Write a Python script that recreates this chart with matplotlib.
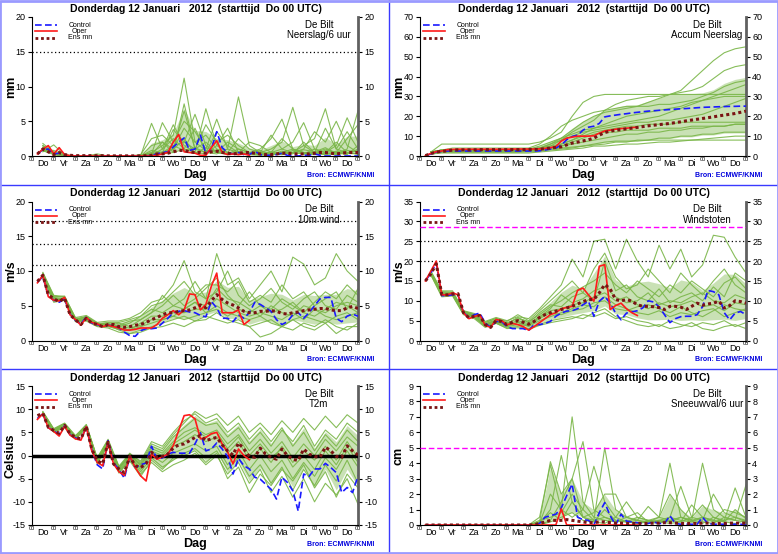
import numpy as np
import matplotlib.pyplot as plt
from matplotlib.lines import Line2D

plt.rcParams['font.family'] = ['Liberation Sans', 'DejaVu Sans']
plt.rcParams['axes.unicode_minus'] = False

# tijdas in uren na de start (Do 00 UTC)
uren6 = np.arange(6, 361, 6)
uren_oper = uren6[:40]
uren12 = np.arange(12, 361, 12)
dagen = ['Do', 'Vr', 'Za', 'Zo', 'Ma', 'Di', 'Wo', 'Do', 'Vr', 'Za', 'Zo', 'Ma', 'Di', 'Wo', 'Do']
titel = 'Donderdag 12 Januari   2012  (starttijd  Do 00 UTC)'

# ---------------- neerslag per 6 uur (mm) ----------------
neerslag_gem = [0.3, 1.0, 0.6, 0.2, 0.5, 0.2, 0.1, 0.05, 0.05, 0.05,
                0.05, 0.05, 0.05, 0.02, 0.02, 0.02, 0.02, 0.02, 0.02, 0.02,
                0.05, 0.1, 0.3, 0.3, 0.4, 0.6, 0.8, 0.8, 0.6, 0.5,
                0.5, 0.4, 0.6, 0.7, 0.5, 0.4, 0.3, 0.4, 0.5, 0.5,
                0.4, 0.3, 0.2, 0.2, 0.3, 0.4, 0.4, 0.3, 0.3, 0.3,
                0.3, 0.4, 0.5, 0.5, 0.4, 0.3, 0.4, 0.5, 0.5, 0.5]
neerslag_ctrl = [0.3, 0.9, 1.0, 0.3, 0.4, 0.1, 0.0, 0.0, 0.0, 0.0,
                 0, 0, 0, 0, 0, 0, 0, 0, 0, 0,
                 0.0, 0.1, 0.3, 0.5, 0.6, 1.3, 2.0, 2.6, 0.8, 1.0,
                 3.0, 0.3, 1.0, 3.5, 1.2, 0.5, 0.3, 0.5, 0.2, 0.2,
                 0.7, 0.2, 0.1, 0.1, 0.2, 0.4, 0.1, 0.1, 0.0, 0.1,
                 0.1, 0.3, 0.1, 0.0, 0.0, 0.0, 0.0, 0.0, 0.0, 0.0]
neerslag_oper = [0.3, 1.0, 1.5, 0.3, 1.2, 0.2, 0.05, 0, 0, 0,
                 0, 0, 0, 0, 0, 0, 0, 0, 0, 0,
                 0, 0, 0.1, 0.3, 0.5, 2.0, 3.1, 0.6, 0.5, 0.4,
                 0.1, 0.1, 1.2, 2.2, 0.5, 0.2, 0.3, 0.2, 0.3, 0.1]
neerslag_leden = [
    [1.5, 0.3, 0, 0, 0, 0, 0, 0, 0, 0.1, 0.5, 1.5, 3.0, 11.2, 2.0, 0.8, 0.5, 0.3, 0.5, 0.2, 0.1, 0.3, 0.5, 1.0, 0.5, 0.3, 0.8, 0.5, 0.3, 1.0],
    [1.0, 0.8, 0.1, 0, 0, 0, 0, 0, 0, 0, 4.7, 1.0, 2.5, 1.0, 0.5, 6.8, 1.5, 0.5, 0.3, 0.2, 0.5, 1.0, 2.0, 7.0, 1.5, 0.5, 0.3, 0.2, 0.5, 0.3],
    [1.8, 0.5, 0.2, 0, 0, 0, 0, 0, 0, 0, 0.3, 4.8, 2.0, 5.0, 3.5, 1.0, 5.3, 1.0, 8.5, 1.5, 0.5, 0.2, 0.3, 0.5, 1.5, 2.5, 6.8, 1.0, 0.5, 0.8],
    [0.8, 0.2, 0, 0, 0, 0.3, 0, 0, 0, 0, 0.2, 0.5, 3.8, 2.0, 6.0, 1.5, 0.5, 2.0, 1.0, 0.5, 1.0, 2.5, 5.3, 1.0, 0.3, 0.2, 0.5, 1.5, 5.5, 2.0],
    [1.2, 0.4, 0, 0, 0, 0, 0, 0, 0, 0, 1.5, 2.0, 1.0, 6.5, 1.0, 0.5, 3.5, 1.5, 0.5, 0.3, 0.2, 0.5, 1.0, 2.0, 4.8, 1.0, 0.5, 0.3, 1.0, 6.5],
    [0.6, 1.6, 0.1, 0, 0, 0, 0, 0, 0, 0, 0.3, 0.5, 1.0, 4.0, 2.0, 3.0, 1.0, 0.5, 2.5, 1.0, 0.5, 0.3, 0.2, 0.5, 1.0, 3.5, 2.0, 5.0, 1.5, 0.5],
    [1.5, 0.3, 0, 0, 0, 0, 0, 0, 0, 0.2, 2.5, 3.0, 1.5, 2.0, 1.0, 4.5, 2.0, 3.0, 1.5, 0.5, 0.3, 0.5, 2.5, 1.0, 0.5, 0.5, 1.0, 0.5, 2.5, 4.5],
    [1.0, 0.5, 0, 0, 0, 0, 0, 0, 0, 0, 0.1, 1.0, 4.5, 1.5, 0.5, 0.3, 1.5, 4.0, 0.5, 2.0, 1.5, 0.5, 0.3, 0.5, 0.3, 1.0, 0.5, 2.0, 0.5, 0.3],
    [1.3, 0.2, 0, 0, 0, 0, 0, 0, 0, 0, 0.5, 0.3, 0.5, 7.5, 1.0, 2.0, 0.5, 0.3, 1.0, 0.5, 0.2, 0.1, 0.5, 0.3, 2.0, 0.5, 0.3, 0.5, 0.2, 1.5],
    [0.9, 0.6, 0, 0, 0, 0, 0, 0, 0, 0, 0.2, 2.0, 0.5, 1.0, 4.0, 0.5, 0.3, 1.0, 0.5, 0.2, 0.5, 3.0, 1.0, 0.5, 0.3, 0.5, 4.0, 1.0, 3.5, 1.0],
    [1.1, 0.3, 0, 0, 0, 0, 0, 0, 0, 0, 0.8, 0.5, 1.5, 0.8, 1.2, 0.5, 0.8, 0.3, 0.2, 0.4, 0.3, 0.6, 0.2, 0.8, 0.5, 0.3, 0.2, 0.7, 0.4, 0.3],
    [0.7, 0.4, 0, 0, 0, 0, 0, 0, 0, 0, 0.1, 0.6, 0.9, 2.5, 0.4, 1.2, 0.6, 0.2, 0.6, 0.3, 0.8, 0.2, 0.7, 0.4, 0.9, 0.6, 1.2, 0.3, 0.8, 0.6],
]

# ---------------- geaccumuleerde neerslag (mm) ----------------
accum_gem = [0.2, 1.2, 2.0, 2.3, 2.6, 3.0, 3.1, 3.1, 3.1, 3.1,
             3.2, 3.2, 3.2, 3.2, 3.2, 3.2, 3.2, 3.2, 3.2, 3.3,
             3.3, 3.4, 3.7, 4.0, 4.3, 4.6, 5.6, 6.5, 7.0, 7.6,
             8.2, 9.0, 10.5, 11.8, 12.5, 13.0, 13.3, 13.7, 14.0, 14.4,
             14.8, 15.2, 15.5, 15.8, 16.1, 16.4, 16.8, 17.2, 17.7, 18.1,
             18.5, 18.9, 19.3, 19.7, 20.2, 20.6, 21.0, 21.4, 22.0, 22.6]
accum_ctrl = [0.2, 1.0, 2.0, 2.3, 2.5, 2.5, 2.5, 2.5, 2.5, 2.5,
              2.5, 2.5, 2.5, 2.5, 2.5, 2.5, 2.5, 2.5, 2.5, 2.5,
              2.5, 2.6, 3.0, 3.5, 4.0, 5.5, 8.2, 9.8, 10.5, 13.0,
              14.5, 15.0, 16.4, 19.7, 20.2, 20.6, 21.0, 21.3, 21.7, 22.0,
              22.3, 22.6, 22.8, 23.0, 23.2, 23.4, 23.6, 23.8, 23.9, 24.1,
              24.3, 24.5, 24.6, 24.7, 24.8, 24.9, 25.0, 25.0, 25.1, 25.1]
accum_oper = [0.2, 1.3, 2.2, 2.5, 3.2, 3.3, 3.4, 3.4, 3.4, 3.4,
              3.4, 3.4, 3.4, 3.4, 3.4, 3.4, 3.5, 3.5, 3.5, 3.5,
              3.5, 3.6, 3.8, 4.2, 4.8, 7.5, 9.0, 9.5, 10.0, 10.0,
              10.0, 10.2, 11.5, 12.6, 13.0, 13.5, 13.8, 14.0, 14.3, 14.5]
accum_leden = [
    [2, 3, 3, 3, 3, 3, 3, 3, 3, 3.5, 4, 6, 9, 13, 17, 20, 22, 23, 24, 25, 27, 29, 31, 33, 38, 43, 48, 52, 54, 55],
    [2, 6, 6, 6, 6, 6, 6, 6, 6, 6, 7, 9, 12, 20, 27, 30, 31, 31, 31, 31, 31, 31, 31, 31, 31, 31, 31, 31, 31, 31],
    [2, 3, 3, 3, 3, 3, 3, 3, 3, 3, 4, 5, 8, 12, 15, 18, 23, 26, 28, 29, 30, 30, 31, 32, 33, 35, 39, 43, 45, 46],
    [1.5, 2.5, 2.5, 2.5, 2.5, 2.5, 2.5, 2.5, 2.5, 3, 4, 5, 6, 8, 10, 12, 13, 14, 15, 15, 16, 16, 16, 17, 17, 17, 17, 17, 17, 17],
    [1, 2, 2, 2, 2, 2, 2, 2, 2, 2, 2.5, 3, 3.5, 4, 5, 6, 7, 7.5, 7.5, 7.5, 8, 8, 8, 8, 8, 8, 8, 8, 8, 8],
    [2, 3, 3, 3, 3, 3, 3, 3, 3, 3.5, 5, 7, 9, 11, 13, 14, 15, 16, 17, 18, 19, 20, 22, 24, 26, 28, 30, 32, 34, 36],
    [2, 3, 3, 3, 3, 3, 3, 3, 3, 3, 3.5, 4, 5, 7, 9, 11, 12, 12, 13, 13, 13, 14, 14, 14, 15, 15, 15, 15, 16, 16],
    [1.5, 2, 2, 2, 2, 2, 2, 2, 2, 2.5, 3, 4, 6, 8, 11, 14, 16, 18, 20, 21, 22, 23, 24, 25, 27, 28, 29, 30, 30, 30],
    [2, 3, 4, 4, 4, 4, 4, 4, 4, 4, 6, 10, 15, 18, 20, 22, 23, 24, 25, 25, 25, 26, 26, 27, 28, 30, 32, 35, 37, 38],
    [1.5, 2.5, 2.5, 2.5, 2.5, 2.5, 2.5, 2.5, 2.5, 3, 3.5, 4, 5, 6, 7, 8, 9, 10, 11, 11, 12, 12, 13, 13, 14, 14, 15, 15, 16, 16],
    [2, 2.5, 2.5, 2.5, 2.5, 2.5, 2.5, 2.5, 2.5, 2.5, 3, 3.5, 4, 4.5, 5, 5.5, 6, 7, 7, 8, 8, 9, 9, 10, 10, 11, 11, 12, 12, 12],
    [1.5, 3, 3, 3, 3, 3, 3, 3, 3, 3, 4, 6, 8, 10, 12, 13, 14, 15, 16, 17, 17, 18, 18, 19, 20, 21, 23, 25, 27, 29],
    [1, 1.5, 1.5, 1.5, 1.5, 1.5, 1.5, 1.5, 1.5, 1.5, 2, 2.5, 3, 3.5, 4, 5, 5, 5.5, 6, 6, 6.5, 7, 7, 7.5, 8, 8.5, 9, 9.5, 10, 10],
]

# ---------------- 10 m wind (m/s) ----------------
wind_gem = [8.5, 9.4, 6.6, 6.0, 5.6, 6.1, 3.7, 3.0, 2.3, 3.2,
            2.5, 2.3, 2.0, 2.3, 2.3, 2.0, 1.9, 2.0, 2.2, 2.3,
            2.6, 3.0, 3.3, 3.7, 4.0, 4.0, 4.2, 4.3, 4.4, 4.7,
            5.1, 4.7, 5.7, 6.6, 5.9, 5.4, 5.1, 4.7, 4.2, 4.0,
            4.0, 4.2, 4.2, 4.3, 4.2, 3.9, 3.8, 4.0, 4.1, 4.3,
            4.4, 4.5, 4.6, 4.6, 4.4, 4.3, 4.3, 4.7, 4.9, 4.6]
wind_ctrl = [8.4, 9.2, 6.4, 5.8, 5.5, 6.0, 3.8, 2.9, 2.4, 3.4,
             2.5, 2.3, 2.0, 2.2, 2.1, 1.8, 1.2, 0.7, 0.6, 1.4,
             1.7, 1.7, 1.8, 2.5, 3.2, 4.0, 4.2, 4.3, 4.1, 4.0,
             3.6, 3.4, 5.6, 4.7, 3.2, 3.2, 2.7, 3.7, 3.2, 4.0,
             5.5, 5.2, 4.7, 4.2, 3.0, 2.3, 2.7, 3.7, 4.0, 3.2,
             4.0, 5.0, 6.0, 6.2, 6.2, 3.2, 2.7, 3.5, 3.8, 3.5]
wind_oper = [8.3, 9.4, 6.3, 5.8, 5.7, 6.2, 3.7, 3.0, 2.2, 3.3,
             2.6, 2.4, 2.0, 2.2, 2.0, 1.8, 1.5, 1.5, 1.6, 1.8,
             1.8, 1.8, 2.3, 3.2, 3.7, 4.3, 3.7, 4.4, 6.7, 6.6,
             4.4, 5.2, 7.8, 9.7, 4.0, 4.0, 4.0, 4.4, 2.3, 2.9]
wind_leden = [
    [9.8, 6.5, 6.3, 3.3, 3.6, 2.6, 2.8, 2.8, 3.2, 4.0, 5.5, 6.0, 8.0, 11.5, 7.0, 6.0, 12.5, 8.0, 9.0, 6.0, 8.0, 10.0, 7.0, 12.0, 11.0, 8.0, 9.0, 12.5, 10.0, 8.5],
    [9.0, 5.5, 5.8, 2.7, 2.8, 2.0, 1.8, 1.2, 1.0, 1.5, 2.0, 2.5, 3.0, 3.5, 2.8, 3.0, 4.0, 3.0, 2.5, 2.0, 2.5, 3.0, 2.0, 1.5, 2.5, 2.0, 3.0, 2.0, 1.5, 2.5],
    [9.5, 6.2, 6.0, 3.0, 3.5, 2.5, 2.2, 2.5, 2.0, 3.0, 4.0, 5.0, 6.5, 5.0, 6.0, 7.5, 9.0, 6.5, 5.0, 7.0, 5.0, 4.5, 6.0, 5.0, 4.0, 5.5, 7.0, 6.0, 8.0, 6.5],
    [9.2, 5.8, 6.1, 2.8, 3.0, 2.2, 2.0, 1.6, 1.5, 2.0, 2.5, 3.0, 3.5, 4.5, 5.5, 4.0, 5.0, 4.0, 3.5, 3.0, 3.5, 2.5, 2.0, 3.0, 3.5, 3.0, 2.5, 3.5, 4.0, 3.0],
    [9.6, 6.4, 6.2, 3.1, 3.3, 2.4, 2.5, 2.0, 2.5, 3.5, 4.5, 4.0, 5.0, 6.0, 8.5, 6.0, 7.0, 10.0, 6.5, 5.0, 6.0, 7.5, 5.5, 4.5, 6.0, 7.0, 5.0, 4.5, 6.5, 5.5],
    [9.1, 6.0, 5.9, 2.9, 3.1, 2.3, 2.4, 1.8, 1.5, 2.5, 3.5, 3.5, 4.0, 4.0, 4.5, 4.5, 6.0, 5.0, 4.0, 3.5, 4.0, 3.5, 3.0, 4.0, 3.0, 4.5, 3.5, 3.0, 3.5, 4.0],
    [9.4, 5.9, 6.0, 3.0, 3.4, 2.5, 2.2, 2.2, 2.8, 3.0, 4.0, 6.5, 5.0, 4.5, 5.5, 5.0, 7.5, 6.0, 5.5, 4.5, 3.5, 5.0, 4.0, 3.5, 5.0, 4.5, 4.0, 5.0, 5.5, 5.0],
    [9.3, 6.1, 5.7, 2.9, 3.2, 2.2, 2.3, 1.5, 1.0, 1.2, 1.8, 2.0, 2.5, 2.0, 2.8, 3.5, 3.0, 2.5, 3.0, 2.0, 0.5, 1.0, 2.0, 3.0, 2.0, 1.5, 2.5, 1.0, 2.0, 2.0],
    [9.7, 6.3, 6.4, 3.2, 3.3, 2.4, 2.6, 2.6, 3.0, 3.5, 5.0, 5.5, 7.0, 8.5, 6.5, 8.0, 8.0, 7.0, 8.5, 5.5, 6.5, 5.5, 8.0, 6.0, 7.0, 5.0, 6.0, 7.0, 4.5, 7.5],
    [9.0, 5.7, 5.8, 2.8, 3.0, 2.1, 2.0, 2.0, 1.8, 2.2, 3.0, 3.0, 3.5, 3.0, 3.5, 4.0, 4.5, 3.5, 4.5, 4.0, 5.0, 4.0, 4.5, 5.5, 4.0, 3.5, 4.5, 5.5, 5.0, 4.0],
]

# ---------------- windstoten (m/s) ----------------
stoot_gem = [15.0, 16.8, 19.3, 11.6, 11.5, 11.7, 11.8, 7.0, 5.7, 6.1,
             6.3, 4.0, 3.3, 5.0, 4.8, 4.0, 4.6, 5.0, 4.6, 4.1,
             4.8, 5.8, 6.5, 7.0, 7.4, 7.8, 8.2, 8.6, 9.2, 9.8,
             10.3, 10.3, 12.0, 14.1, 13.0, 10.3, 10.0, 10.3, 9.9, 9.0,
             8.6, 8.6, 8.5, 8.3, 7.8, 8.6, 8.6, 8.4, 7.8, 8.6,
             9.4, 8.9, 9.2, 9.4, 9.9, 8.2, 8.8, 10.0, 9.8, 9.4]
stoot_ctrl = [15.0, 17.0, 19.5, 11.3, 11.3, 11.5, 11.5, 7.0, 5.8, 6.5,
              6.9, 4.4, 3.3, 4.8, 4.8, 3.5, 3.0, 3.0, 3.0, 2.5,
              4.0, 4.0, 4.3, 4.8, 6.1, 6.9, 7.4, 7.5, 8.0, 9.0,
              9.9, 6.1, 9.9, 11.1, 9.4, 6.9, 5.2, 6.9, 7.2, 7.5,
              8.2, 10.0, 9.7, 8.5, 6.5, 4.5, 5.5, 6.0, 6.1, 6.1,
              6.5, 8.5, 12.6, 12.3, 11.5, 7.0, 5.2, 6.9, 7.3, 6.5]
stoot_oper = [15.0, 17.5, 20.0, 11.5, 11.5, 12.0, 11.5, 7.0, 5.5, 6.0,
              6.5, 3.8, 3.3, 5.3, 5.0, 4.0, 4.3, 4.0, 3.5, 2.6,
              3.5, 4.5, 5.5, 6.5, 7.0, 8.0, 8.3, 8.6, 12.6, 13.2,
              11.5, 9.9, 18.7, 19.1, 7.8, 8.8, 9.4, 8.0, 7.0, 6.3]
stoot_leden = [
    [17.5, 12.5, 12.5, 7.5, 6.8, 4.8, 5.8, 5.0, 6.0, 5.5, 8.0, 11.0, 14.0, 20.5, 16.0, 25.0, 25.5, 18.0, 25.5, 20.0, 16.0, 24.0, 18.0, 23.0, 16.0, 19.0, 26.5, 26.0, 21.0, 17.0],
    [16.5, 11.0, 11.2, 6.5, 5.5, 3.3, 4.3, 3.2, 3.5, 3.0, 4.0, 5.0, 5.5, 6.0, 5.5, 7.0, 8.0, 6.0, 5.0, 4.0, 3.5, 4.0, 3.0, 3.5, 4.5, 3.0, 2.5, 3.5, 4.0, 3.0],
    [17.0, 12.0, 12.0, 7.3, 6.5, 4.5, 5.5, 4.5, 5.5, 4.8, 6.5, 8.5, 10.0, 12.0, 13.5, 15.0, 17.0, 14.0, 12.0, 15.0, 13.0, 11.0, 14.0, 12.0, 15.0, 13.0, 11.0, 14.5, 16.0, 13.0],
    [16.8, 11.5, 11.5, 6.8, 6.0, 3.8, 4.7, 3.8, 4.5, 3.5, 5.0, 6.0, 7.0, 8.0, 9.0, 8.5, 11.0, 9.0, 8.0, 7.0, 6.5, 7.5, 6.0, 7.0, 6.5, 7.5, 8.0, 6.0, 7.0, 8.0],
    [17.2, 12.2, 12.2, 7.2, 6.3, 4.2, 5.2, 4.2, 5.8, 4.5, 7.0, 9.0, 8.5, 11.0, 12.0, 10.0, 20.0, 12.5, 14.0, 11.0, 10.0, 13.0, 9.5, 11.0, 12.0, 10.0, 13.5, 11.0, 17.0, 15.0],
    [16.6, 11.3, 11.4, 6.7, 5.8, 3.6, 4.5, 3.5, 4.0, 3.8, 5.5, 7.0, 6.5, 7.5, 8.0, 9.5, 10.0, 8.0, 7.5, 8.5, 9.0, 8.0, 7.0, 8.5, 7.0, 6.0, 7.5, 9.0, 8.0, 7.5],
    [17.0, 11.8, 11.8, 7.1, 6.2, 4.1, 5.0, 4.0, 5.0, 4.2, 6.0, 8.0, 11.5, 9.5, 10.5, 12.5, 13.5, 11.0, 9.5, 10.0, 12.0, 9.0, 10.0, 9.5, 11.0, 12.0, 10.0, 9.5, 11.5, 10.5],
    [16.7, 11.4, 11.5, 6.9, 5.9, 3.5, 4.4, 3.0, 3.2, 2.8, 3.8, 4.5, 5.0, 5.5, 6.5, 6.0, 7.0, 5.5, 6.0, 5.0, 4.5, 3.5, 5.0, 4.0, 3.5, 4.5, 4.0, 5.0, 3.5, 4.5],
    [17.3, 12.3, 12.1, 7.4, 6.6, 4.6, 5.6, 4.8, 6.5, 5.0, 7.5, 10.0, 12.5, 15.0, 12.0, 18.0, 22.0, 16.0, 13.0, 14.0, 18.0, 15.0, 12.0, 17.0, 14.0, 11.5, 15.0, 18.0, 14.0, 12.0],
    [16.9, 11.7, 11.7, 7.0, 6.1, 3.9, 4.9, 3.6, 4.6, 3.9, 5.8, 7.5, 8.0, 9.0, 9.5, 11.0, 12.0, 10.0, 11.0, 9.0, 8.0, 9.5, 8.5, 9.0, 10.0, 8.5, 9.0, 7.5, 9.5, 9.0],
]

# ---------------- temperatuur 2 m (Celsius) ----------------
t2m_gem = [8.6, 9.1, 6.1, 5.4, 4.8, 6.5, 4.7, 3.9, 3.6, 6.3,
           1.4, -1.1, -1.8, 2.9, -1.8, -2.9, -3.7, -0.2, -2.2, -2.6,
           -1.8, 0.7, -0.4, -0.2, 0.3, 1.6, 2.3, 2.5, 3.2, 3.9,
           4.3, 3.2, 3.6, 3.9, 2.3, 1.0, 0.1, 2.7, 1.4, -0.2,
           -0.4, 1.6, 0.3, -0.4, -0.8, 1.4, 0.0, -0.8, -1.1, 1.4,
           0.3, -0.2, -0.4, 1.8, 1.0, -0.2, -0.4, 2.1, 1.0, 0.1]
t2m_ctrl = [8.0, 9.0, 6.0, 5.3, 4.6, 6.4, 4.5, 3.8, 3.4, 6.2,
            1.2, -2.0, -2.9, 3.2, -1.6, -3.0, -4.9, -0.2, -2.6, -2.0,
            -1.6, 2.0, -0.8, -0.5, 0.3, 0.7, 0.5, 0.5, 0.5, 2.5,
            4.9, 1.0, 1.4, 2.7, 1.4, -0.2, -4.0, -0.6, -2.2, -2.9,
            -4.7, -5.1, -6.2, -7.3, -9.4, -4.7, -5.8, -7.6, -12.0, -4.0,
            -4.5, -2.9, -2.9, -1.7, -2.6, -3.7, -8.0, -6.9, -8.0, -4.4]
t2m_oper = [7.8, 9.0, 6.0, 5.2, 4.2, 6.3, 4.4, 3.6, 3.3, 6.2,
            1.0, -1.5, -2.2, 2.8, -1.8, -3.5, -4.3, -0.1, -2.6, -4.4,
            -5.5, 0.3, -0.8, -0.3, 0.3, 2.1, 5.4, 8.6, 8.8, 7.9,
            3.6, 3.9, 4.7, 5.0, 2.5, 0.8, -1.8, 1.4, 0.0, -0.9]
t2m_leden = [
    [9.5, 5.8, 7.0, 4.3, 6.5, -0.5, 3.5, -2.3, 0.5, -1.5, 2.5, 1.5, 4.5, 7.0, 9.5, 8.0, 9.0, 6.5, 8.5, 5.0, 7.0, 4.5, 7.5, 5.0, 8.0, 5.5, 8.5, 6.0, 8.8, 7.0],
    [8.7, 5.0, 6.0, 3.5, 6.0, -1.8, 2.2, -3.8, -1.0, -4.0, -1.5, -3.5, -2.0, -1.0, 0.5, -2.0, 0.0, -4.0, -1.5, -6.0, -3.0, -8.0, -4.5, -9.0, -5.0, -10.0, -6.0, -8.5, -5.0, -10.5],
    [9.2, 5.5, 6.6, 4.0, 6.4, -1.0, 3.0, -2.8, 0.0, -2.0, 1.5, 0.5, 3.0, 5.0, 6.0, 4.5, 5.5, 2.5, 4.5, 1.0, 3.5, 0.5, 3.0, -0.5, 2.5, 0.0, 3.5, 1.0, 4.0, 2.0],
    [9.0, 5.3, 6.4, 3.8, 6.2, -1.3, 2.7, -3.2, -0.5, -3.0, 0.0, -1.5, 0.5, 1.5, 2.5, 1.0, 2.0, -2.0, 1.0, -3.0, 0.0, -3.5, -1.0, -5.0, -1.5, -4.5, -0.5, -3.0, 1.0, -2.5],
    [9.4, 5.6, 6.8, 4.1, 6.6, -0.8, 3.2, -2.5, 0.2, -1.8, 2.0, 1.0, 4.0, 6.0, 8.0, 6.5, 7.0, 4.0, 6.0, 2.5, 5.0, 2.0, 5.5, 3.0, 6.5, 2.0, 5.5, 3.5, 7.0, 5.0],
    [8.8, 5.1, 6.2, 3.6, 6.1, -1.5, 2.5, -3.5, -0.8, -3.5, -0.5, -2.5, -1.0, 0.5, 1.5, -0.5, 1.0, -3.0, -0.5, -4.5, -2.0, -6.0, -2.5, -7.5, -3.0, -6.5, -2.0, -5.5, -1.0, -6.0],
    [9.1, 5.4, 6.5, 3.9, 6.3, -1.1, 2.9, -2.9, -0.2, -2.6, 0.5, -0.5, 2.0, 3.0, 4.5, 3.0, 4.0, 0.5, 3.0, -1.0, 1.5, -1.5, 2.0, -1.5, 1.0, -1.0, 2.0, -1.0, 3.0, -0.5],
    [9.3, 5.7, 6.9, 4.2, 6.7, -0.6, 3.3, -2.6, 0.3, -1.2, 3.0, 2.0, 5.0, 7.5, 9.0, 7.0, 8.0, 5.0, 7.0, 3.5, 6.0, 3.0, 6.0, 2.0, 5.0, 1.0, 4.5, 2.0, 5.5, 3.0],
    [8.9, 5.2, 6.3, 3.7, 6.0, -1.6, 2.4, -3.6, -1.2, -4.5, -1.0, -3.0, -0.5, 0.0, 1.0, -1.5, 0.5, -5.0, -2.5, -8.0, -4.0, -6.5, -3.0, -5.5, -2.0, -7.0, -3.5, -9.0, -4.0, -7.0],
    [9.2, 5.5, 6.6, 4.0, 6.4, -0.9, 3.1, -2.7, 0.1, -2.2, 1.0, 0.0, 2.5, 4.0, 5.5, 4.0, 5.0, 1.5, 4.0, 0.0, 2.5, -0.5, 1.5, -2.5, 0.0, -3.0, 1.0, -2.0, 2.0, -1.5],
]

# ---------------- sneeuwval per 6 uur (cm) ----------------
sneeuw_gem = [0, 0, 0, 0, 0, 0, 0, 0, 0, 0,
              0, 0, 0, 0, 0, 0, 0, 0, 0, 0,
              0.02, 0.1, 0.2, 0.3, 0.3, 0.3, 0.35, 0.3, 0.25, 0.2,
              0.15, 0.15, 0.2, 0.2, 0.15, 0.12, 0.12, 0.1, 0.1, 0.1,
              0.1, 0.1, 0.12, 0.12, 0.15, 0.15, 0.12, 0.1, 0.1, 0.1,
              0.1, 0.12, 0.12, 0.1, 0.1, 0.1, 0.12, 0.12, 0.12, 0.12]
sneeuw_ctrl = [0, 0, 0, 0, 0, 0, 0, 0, 0, 0,
               0, 0, 0, 0, 0, 0, 0, 0, 0, 0,
               0, 0.1, 0.5, 0.6, 0.7, 1.1, 1.9, 2.65, 0.5, 0.35,
               0.3, 0.0, 0.8, 1.45, 0.6, 0.0, 0.7, 0.25, 0.2, 0.15,
               0.1, 0.1, 0.2, 0.1, 0.1, 0.6, 0.1, 0.05, 0.05, 0.05,
               0.05, 0.5, 0.1, 0.05, 0.05, 0.05, 0.05, 0.05, 0.05, 0.0]
sneeuw_oper = [0, 0, 0, 0, 0, 0, 0, 0, 0, 0,
               0, 0, 0, 0, 0, 0, 0, 0, 0, 0,
               0, 0, 0, 0, 0, 1.05, 0, 0, 0, 0,
               0, 0, 0, 0, 0, 0, 0, 0, 0, 0]
sneeuw_leden = [
    [0, 0, 0, 0, 0, 0, 0, 0, 0, 0, 0.5, 3.9, 1.0, 7.0, 1.5, 0.5, 0.3, 0.2, 0.5, 0.3, 0.2, 0.1, 0.5, 0.3, 0.2, 0.5, 0.3, 0.2, 0.1, 0.3],
    [0, 0, 0, 0, 0, 0, 0, 0, 0, 0, 0.2, 4.1, 2.0, 3.0, 5.4, 1.0, 0.5, 0.3, 0.2, 0.1, 0.3, 0.5, 4.0, 0.5, 0.3, 0.2, 0.1, 0.5, 0.3, 0.2],
    [0, 0, 0, 0, 0, 0, 0, 0, 0, 0, 0.1, 1.0, 4.5, 1.5, 0.5, 0.3, 5.0, 1.0, 0.5, 0.8, 0.2, 0.3, 0.5, 2.5, 0.5, 1.3, 0.5, 0.3, 2.4, 0.5],
    [0, 0, 0, 0, 0, 0, 0, 0, 0, 0, 0.3, 0.5, 0.8, 2.0, 1.0, 3.8, 1.5, 0.5, 1.5, 0.5, 0.3, 0.2, 0.3, 0.5, 0.3, 4.0, 1.0, 0.5, 0.3, 2.6],
    [0, 0, 0, 0, 0, 0, 0, 0, 0, 0, 0.0, 0.3, 1.5, 3.0, 0.5, 0.8, 2.0, 2.0, 0.5, 0.3, 1.2, 0.5, 0.3, 0.2, 0.5, 0.3, 2.0, 0.8, 0.5, 0.3],
    [0, 0, 0, 0, 0, 0, 0, 0, 0, 0, 0.1, 2.0, 1.0, 0.5, 1.0, 0.3, 0.5, 0.2, 0.3, 0.1, 0.2, 0.5, 2.0, 1.0, 0.3, 0.5, 0.3, 1.0, 0.8, 0.5],
    [0, 0, 0, 0, 0, 0, 0, 0, 0, 0, 0.0, 0.2, 0.5, 0.8, 0.3, 0.2, 1.0, 0.3, 0.2, 0.5, 0.3, 0.2, 0.1, 0.2, 1.3, 0.5, 0.2, 0.3, 0.5, 0.2],
    [0, 0, 0, 0, 0, 0, 0, 0, 0, 0, 0.2, 0.8, 0.3, 1.5, 0.5, 0.2, 0.1, 0.5, 0.2, 0.3, 0.1, 0.3, 0.2, 0.5, 0.2, 0.1, 0.5, 0.2, 1.0, 0.4],
]

groen = '#7ab648'
blauw = '#1a1aff'
rood = '#ff1a1a'
donkerrood = '#7a1414'
magenta = '#ff00ff'
stippel = (0, (1, 2))

panelen = [
    dict(leden=neerslag_leden, ctrl=neerslag_ctrl, oper=neerslag_oper, gem=neerslag_gem,
         ylim=(0, 20), stap=5, eenheid='mm', naam='Neerslag/6 uur',
         lijnen=[(15, 'k', stippel, 0.9)]),
    dict(leden=accum_leden, ctrl=accum_ctrl, oper=accum_oper, gem=accum_gem,
         ylim=(0, 70), stap=10, eenheid='mm', naam='Accum Neerslag', lijnen=[]),
    dict(leden=wind_leden, ctrl=wind_ctrl, oper=wind_oper, gem=wind_gem,
         ylim=(0, 20), stap=5, eenheid='m/s', naam='10m wind',
         lijnen=[(10.8, 'k', stippel, 0.9), (13.9, 'k', stippel, 0.9),
                 (17.2, 'k', stippel, 0.9)]),
    dict(leden=stoot_leden, ctrl=stoot_ctrl, oper=stoot_oper, gem=stoot_gem,
         ylim=(0, 35), stap=5, eenheid='m/s', naam='Windstoten',
         lijnen=[(20, 'k', stippel, 0.9), (25, 'k', stippel, 0.9),
                 (28.5, magenta, (0, (4, 2)), 1.0)]),
    dict(leden=t2m_leden, ctrl=t2m_ctrl, oper=t2m_oper, gem=t2m_gem,
         ylim=(-15, 15), stap=5, eenheid='Celsius', naam='T2m',
         lijnen=[(0, 'k', '-', 2.5)]),
    dict(leden=sneeuw_leden, ctrl=sneeuw_ctrl, oper=sneeuw_oper, gem=sneeuw_gem,
         ylim=(0, 9), stap=1, eenheid='cm', naam='Sneeuwval/6 uur',
         lijnen=[(5, magenta, (0, (4, 2)), 1.0)]),
]

fig = plt.figure(figsize=(7.78, 5.54), dpi=100)
W, H = 778.0, 554.0

for i, p in enumerate(panelen):
    rij, kol = divmod(i, 2)
    links = 32 + 388 * kol
    boven = 17 + 184.5 * rij
    ax = fig.add_axes([links / W, 1 - (boven + 139) / H, 326 / W, 139 / H])

    # dichte kern van de pluim + losse leden
    leden = np.array(p['leden'])
    ax.fill_between(uren12, np.percentile(leden, 15, axis=0),
                    np.percentile(leden, 85, axis=0),
                    color=groen, alpha=0.4, lw=0, zorder=1)
    for lid in p['leden']:
        ax.plot(uren12, lid, color=groen, lw=0.8, alpha=0.9, zorder=2)
    for y, kleur, stijl, dikte in p['lijnen']:
        ax.axhline(y, color=kleur, ls=stijl, lw=dikte, zorder=3)
    ax.plot(uren6, p['ctrl'], color=blauw, ls=(0, (4, 2)), lw=1.2, zorder=4)
    ax.plot(uren_oper, p['oper'], color=rood, lw=1.2, zorder=5)
    ax.plot(uren6, p['gem'], color=donkerrood, ls=(0, (1, 1)), lw=2.2, zorder=6)

    ymin, ymax = p['ylim']
    ax.set_xlim(0, 360)
    ax.set_ylim(ymin, ymax)
    ax.set_yticks(np.arange(ymin, ymax + 0.01, p['stap']))
    ax.tick_params(axis='y', left=True, right=True, labelleft=True, labelright=True,
                   direction='out', length=3, labelsize=6.5, pad=1.5)
    ax.set_xticks(np.arange(0, 361, 24), ['00'] * 16, fontsize=4)
    ax.set_xticks(np.arange(12, 361, 24), dagen, minor=True, fontsize=6.5)
    ax.tick_params(axis='x', which='major', length=0, pad=0.5)
    ax.tick_params(axis='x', which='minor', length=0, pad=2.5)

    ax.spines['top'].set_visible(False)
    ax.spines['right'].set_color('#606060')
    ax.spines['right'].set_linewidth(2)
    ax.spines['left'].set_linewidth(0.8)
    ax.spines['bottom'].set_linewidth(0.8)

    ax.text(0.503, 1.06, titel, transform=ax.transAxes, ha='center', va='center',
            fontsize=7.6, fontweight='bold')
    ax.text(-0.065, 0.5, p['eenheid'], transform=ax.transAxes, rotation=90,
            ha='center', va='center', fontsize=9, fontweight='bold')
    ax.text(0.5, -0.14, 'Dag', transform=ax.transAxes, ha='center', va='center',
            fontsize=9, fontweight='bold')
    ax.text(0.948, -0.14, 'Bron: ECMWF/KNMI', transform=ax.transAxes, ha='center',
            va='center', fontsize=5, fontweight='bold', color='#0000dd')
    ax.text(0.88, 0.945, 'De Bilt', transform=ax.transAxes, ha='center', va='center',
            fontsize=7)
    ax.text(0.88, 0.87, p['naam'], transform=ax.transAxes, ha='center', va='center',
            fontsize=7)

    # legenda linksboven
    legenda = [('Control', blauw, (0, (4, 2)), 1.2),
               ('Oper', rood, '-', 1.2),
               ('Ens mn', donkerrood, (0, (1, 1)), 2.0)]
    for (label, kleur, stijl, dikte), ly in zip(legenda, [0.942, 0.899, 0.849]):
        ax.plot([0.01, 0.077], [ly, ly], transform=ax.transAxes, color=kleur,
                ls=stijl, lw=dikte, zorder=7)
        ax.text(0.147, ly, label, transform=ax.transAxes, ha='center', va='center',
                fontsize=5, zorder=7)

# kaders rond de panelen
rand = dict(transform=fig.transFigure, color='#3a3aff', lw=1)
fig.add_artist(Line2D([388.5 / W, 388.5 / W], [0, 1], **rand))
fig.add_artist(Line2D([0, 1], [1 - 184.5 / H, 1 - 184.5 / H], **rand))
fig.add_artist(Line2D([0, 1], [1 - 369 / H, 1 - 369 / H], **rand))
fig.add_artist(Line2D([0, 1, 1, 0, 0], [0.001, 0.001, 0.999, 0.999, 0.001],
                      transform=fig.transFigure, color='#9a9aff', lw=2))

fig.savefig('out.png', dpi=100)
